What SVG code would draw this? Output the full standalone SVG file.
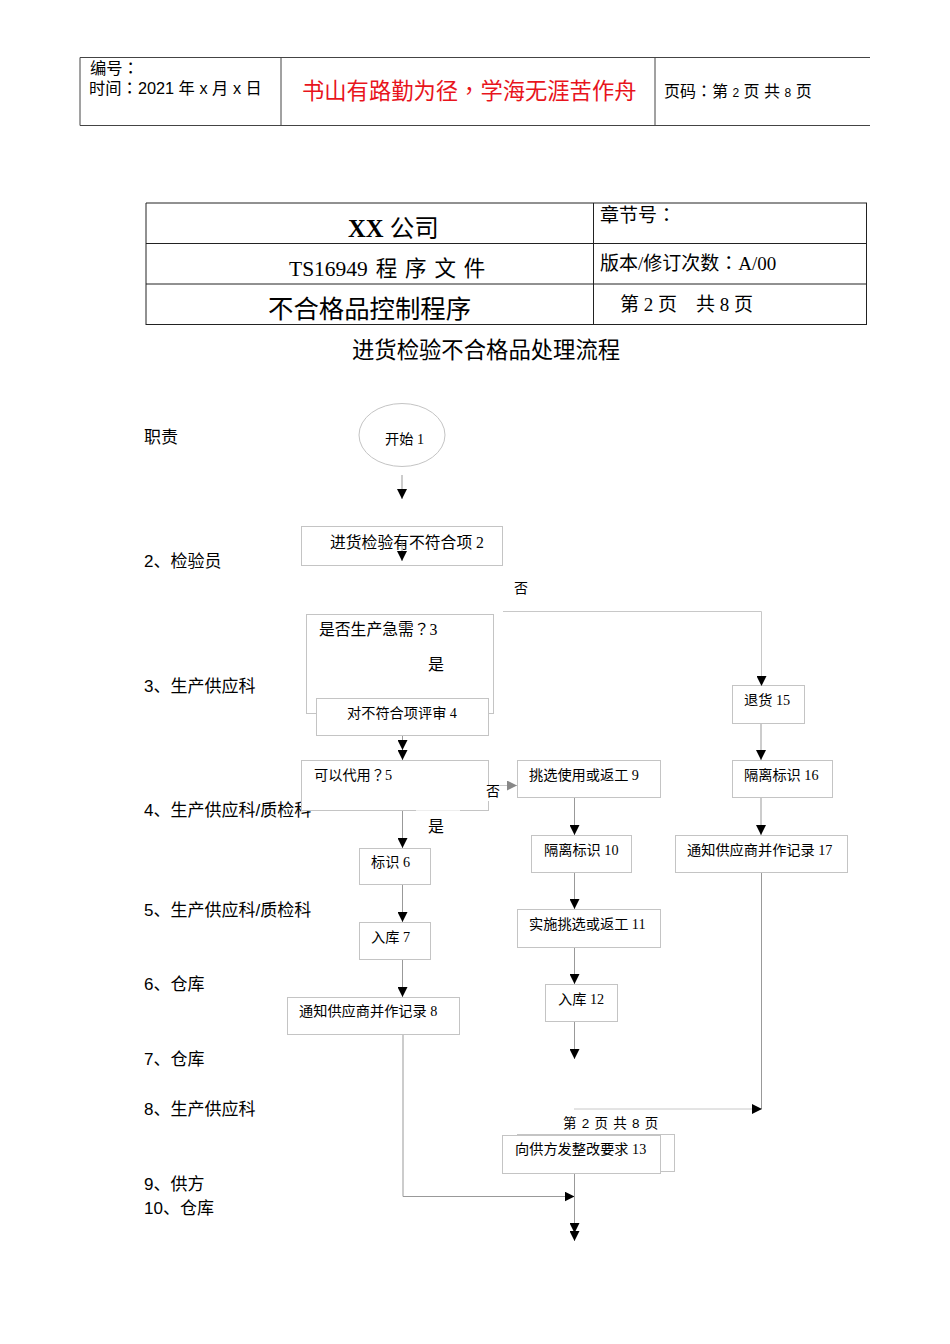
<svg xmlns="http://www.w3.org/2000/svg" width="950" height="1344" viewBox="0 0 950 1344">
<style>
text{fill:#000;white-space:pre}
.s{font-family:"Liberation Sans","Noto Sans CJK SC",sans-serif}
.r{font-family:"Liberation Serif","Noto Sans CJK SC",serif}
.p{font-family:"Noto Sans CJK TC",sans-serif}
.t{fill:none;stroke:#444;stroke-width:1}
.n{fill:#fff;stroke:#c4c4c4;stroke-width:1}
.c{fill:none;stroke:#999;stroke-width:1}
.l{fill:none;stroke:#c8c8c8;stroke-width:1}
.f14{font-size:14.200px}.f16{font-size:16px}.f17{font-size:17px}
</style>
<defs>
<marker id="a" viewBox="0 0 10 10" refX="10" refY="5" markerWidth="10" markerHeight="10" markerUnits="userSpaceOnUse" orient="auto"><path d="M0 0L10 5L0 10Z" fill="#000"/></marker>
<marker id="g" viewBox="0 0 10 10" refX="10" refY="5" markerWidth="10" markerHeight="10" markerUnits="userSpaceOnUse" orient="auto"><path d="M0 0L10 5L0 10Z" fill="#888"/></marker>
</defs>
<rect width="950" height="1344" fill="#fff"/>
<g id="header-table">
<path class="t" d="M80 57.500H870M80 125.500H870M80 57.500V125.500M281 57.500V125.500M655 57.500V125.500"/>
<text class="s" font-size="16.300" x="90" y="73.500">编号<tspan class="p">：</tspan></text>
<text class="s" font-size="16.300" x="89" y="94">时间<tspan class="p">：</tspan>2021 年 x 月 x 日</text>
<text class="s" x="302" y="99" font-size="22.300" style="fill:#e8141c">书山有路勤为径<tspan class="p">，</tspan>学海无涯苦作舟</text>
<text class="s f16" x="664" y="97">页码<tspan class="p">：</tspan>第 <tspan font-size="12">2</tspan> 页 共 <tspan font-size="12">8</tspan> 页</text>
</g>
<g id="doc-table">
<path fill="none" stroke="#222" d="M146 203H867M146 243.500H867M146 284H867M146 324.500H867M146 203V325M593.500 203V325M866.500 203V325"/>
<text class="r" x="348" y="237" font-size="24.600"><tspan font-weight="bold">XX</tspan> 公司</text>
<text class="r" x="289" y="276" font-size="21.500" word-spacing="2.500">TS16949 程 序 文 件</text>
<text class="r" x="268" y="318" font-size="25.400">不合格品控制程序</text>
<text class="r" x="600" y="222" font-size="19">章节号<tspan class="p">：</tspan></text>
<text class="r" x="600" y="270" font-size="19">版本/修订次数<tspan class="p">：</tspan>A/00</text>
<text class="r" x="620" y="311" font-size="19">第 2 页    共 8 页</text>
</g>
<text id="flow-title" class="s" x="352" y="358" font-size="22.350">进货检验不合格品处理流程</text>
<g id="roles" class="s f17">
<text x="144" y="443">职责</text>
<text x="144" y="567">2、检验员</text>
<text x="144" y="692">3、生产供应科</text>
<text x="144" y="816">4、生产供应科/质检科</text>
<text x="144" y="916">5、生产供应科/质检科</text>
<text x="144" y="990">6、仓库</text>
<text x="144" y="1065">7、仓库</text>
<text x="144" y="1115">8、生产供应科</text>
<text x="144" y="1190">9、供方</text>
<text x="144" y="1214">10、仓库</text>
</g>
<g id="node-1"><ellipse class="n" cx="402" cy="435" rx="43" ry="31.500"/><text class="r f14" x="385" y="444">开始 1</text></g>
<g id="node-2"><rect class="n" x="301.500" y="526.500" width="201" height="39"/><text class="r" font-size="15.800" x="330" y="548">进货检验有不符合项 2</text></g>
<g id="node-3"><rect class="n" x="306.500" y="614.500" width="187" height="99"/><text class="r" font-size="15.800" x="319" y="635">是否生产急需<tspan class="p">？</tspan>3</text></g>
<g id="node-4"><rect class="n" x="316.500" y="698.500" width="172" height="37"/><text class="r f14" x="347" y="718">对不符合项评审 4</text></g>
<g id="node-5"><rect class="n" x="301.500" y="760.500" width="187" height="50"/><text class="r f14" x="314" y="780">可以代用<tspan class="p">？</tspan>5</text></g>
<g id="node-6"><rect class="n" x="359.500" y="848.500" width="71" height="36"/><text class="r f14" x="371" y="867">标识 6</text></g>
<g id="node-7"><rect class="n" x="359.500" y="922.500" width="71" height="37"/><text class="r f14" x="371" y="942">入库 7</text></g>
<g id="node-8"><rect class="n" x="287.500" y="997.500" width="172" height="37"/><text class="r f14" x="299" y="1016">通知供应商并作记录 8</text></g>
<g id="node-9"><rect class="n" x="517.500" y="760.500" width="143" height="37"/><text class="r f14" x="529" y="780">挑选使用或返工 9</text></g>
<g id="node-10"><rect class="n" x="531.500" y="835.500" width="100" height="37"/><text class="r f14" x="544" y="855">隔离标识 10</text></g>
<g id="node-11"><rect class="n" x="517.500" y="909.500" width="143" height="38"/><text class="r f14" x="529" y="929">实施挑选或返工 11</text></g>
<g id="node-12"><rect class="n" x="545.500" y="984.500" width="72" height="37"/><text class="r f14" x="558" y="1004">入库 12</text></g>
<g id="node-15"><rect class="n" x="732.500" y="685.500" width="72" height="38"/><text class="r f14" x="744" y="705">退货 15</text></g>
<g id="node-16"><rect class="n" x="732.500" y="760.500" width="100" height="37"/><text class="r f14" x="744" y="780">隔离标识 16</text></g>
<g id="node-17"><rect class="n" x="675.500" y="835.500" width="172" height="37"/><text class="r f14" x="687" y="855">通知供应商并作记录 17</text></g>
<g id="node-13-back"><rect class="n" x="517.500" y="1134.500" width="157" height="37"/></g>
<g id="node-13"><rect class="n" x="502.500" y="1135.500" width="158" height="38"/><text class="r f14" x="515" y="1154">向供方发整改要求 13</text></g>
<g id="connectors">
<path class="c" d="M402 475V499" marker-end="url(#a)"/>
<path class="c" d="M402 541V561" marker-end="url(#a)"/>
<path class="l" d="M503 611.500H761.500V686" marker-end="url(#a)"/>
<path class="c" d="M402.500 736V750" marker-end="url(#a)"/>
<path class="c" d="M402.500 750V760" marker-end="url(#a)"/>
<path class="l" d="M489 785.500H517" marker-end="url(#g)"/>
<path class="c" d="M402.500 811V848" marker-end="url(#a)"/>
<path class="c" d="M402.500 885V922" marker-end="url(#a)"/>
<path class="c" d="M402.500 960V997" marker-end="url(#a)"/>
<path class="c" d="M403 1035V1196.500H574.500" marker-end="url(#a)"/>
<path class="c" d="M574.500 798V835" marker-end="url(#a)"/>
<path class="c" d="M574.500 873V909" marker-end="url(#a)"/>
<path class="c" d="M574.500 948V984" marker-end="url(#a)"/>
<path class="c" d="M574.500 1022V1059" marker-end="url(#a)"/>
<path class="c" d="M761 724V760" marker-end="url(#a)"/>
<path class="c" d="M761 798V835" marker-end="url(#a)"/>
<path class="l" d="M574 1109H761.500"/>
<path class="c" d="M761.500 873V1109"/>
<path d="M752 1104L762 1109L752 1114Z" fill="#000"/>
<path class="c" d="M574.500 1174V1233" marker-end="url(#a)"/>
<path class="c" d="M574.500 1231V1241" marker-end="url(#a)"/>
</g>
<g id="labels">
<path d="M416 810.500H460" stroke="#eee" stroke-width="1"/>
<rect x="486" y="785" width="14" height="16" fill="#fff"/>
<text class="s" font-size="14" x="514" y="593">否</text>
<text class="s f16" x="428" y="670">是</text>
<text class="s" font-size="14" x="486" y="796">否</text>
<text class="s f16" x="428" y="832">是</text>
<text class="s" font-size="13.500" word-spacing="1.500" x="563" y="1128">第 2 页 共 8 页</text>
</g>
</svg>
